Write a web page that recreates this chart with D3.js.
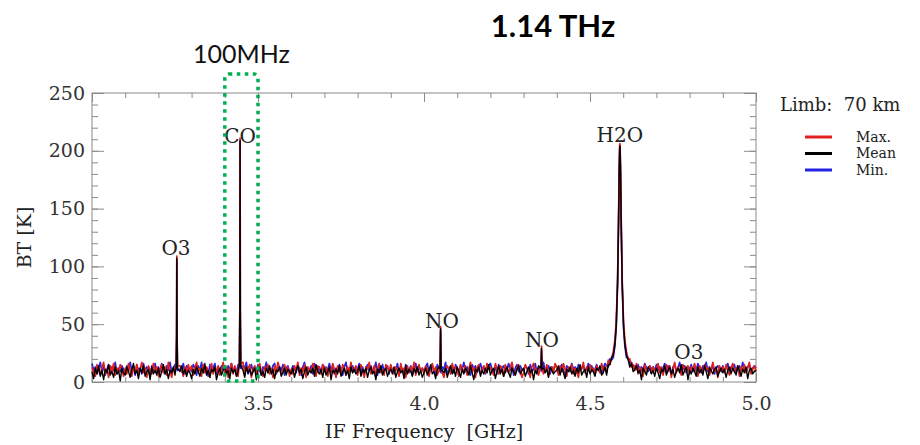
<!DOCTYPE html>
<html>
<head>
<meta charset="utf-8">
<script src="https://cdn.jsdelivr.net/npm/d3@7"></script>
<style>
  body { margin: 0; background: #fff; }
  #chart { width: 920px; height: 445px; }
  .axis path, .axis line { stroke: #8a8a8a; }
  .axis text { font-family: "DejaVu Serif", serif; font-size: 19px; fill: #333; }
  .lbl { font-family: "DejaVu Serif", serif; fill: #222; }
</style>
</head>
<body>
<div id="chart"></div>
<script>
// spectrum sampled every 5 MHz from 3.000 GHz
const freqStart = 3.00;
const freqStep = 0.005;

const meanBT = [
  9,3,12,7,14,5,10,2,11,8,15,6,9,4,13,7,10,1,12,8,
  6,13,9,4,11,16,7,10,3,12,8,14,5,9,11,2,13,7,10,6,
  12,4,9,15,7,11,3,10,8,13,6,12,2,9,14,7,11,5,10,8,
  3,11,7,13,9,5,12,8,16,6,10,4,11,9,13,2,8,12,6,10,
  14,7,10,3,12,8,11,5,9,15,7,10,4,13,8,11,6,9,12,2,
  10,13,6,9,4,12,8,14,7,11,3,10,9,13,5,8,12,6,11,9,
  7,12,4,10,14,8,11,3,9,13,6,10,8,12,5,15,9,7,11,4,
  12,6,9,13,2,10,8,11,7,14,5,9,12,6,10,3,13,8,11,7,
  9,14,5,11,8,12,4,10,13,7,9,2,11,8,14,6,10,12,5,9,
  11,7,13,4,9,12,8,10,3,14,7,11,9,5,12,8,13,6,10,4,
  8,12,6,10,15,7,9,3,11,13,6,10,8,12,4,9,14,7,11,5,
  13,9,4,11,7,12,10,6,14,8,2,11,9,13,5,10,7,12,8,15,
  6,10,12,3,9,14,7,11,5,10,13,8,4,12,9,6,11,14,7,10,
  12,5,9,13,8,11,2,10,7,14,9,6,12,8,11,4,13,10,7,9,
  10,14,6,12,8,3,11,9,13,7,10,5,12,8,15,6,9,11,4,13,
  7,11,9,5,12,10,14,6,8,13,6,15,15,21,25,30,40,60,80,100,
  9,4,13,19,13,16,9,11,14,8,10,2,12,9,6,13,11,7,10,5,
  12,8,3,11,9,14,6,10,13,7,11,4,9,12,8,15,6,10,13,2,
  10,7,12,9,5,13,8,11,6,14,9,3,12,10,7,11,13,5,9,12,
  8,11,4,10,13,7,12,9,6,14,10,5,11,8,13,3,10,12,7,9,
  10
];
const maxBT = [
  13,8,5,15,10,6,12,17,7,11,4,14,9,16,6,12,8,15,11,5,
  12,7,16,10,5,13,9,15,6,11,17,8,12,4,14,10,7,16,9,13,
  5,11,15,8,13,6,17,10,4,12,9,16,7,14,11,5,13,8,15,10,
  14,6,11,17,9,12,5,15,8,13,10,4,16,7,12,9,14,6,11,17,
  8,13,4,11,16,7,14,10,5,12,9,17,6,13,11,15,4,10,14,7,
  12,16,9,5,13,10,15,7,11,4,14,8,17,12,6,10,15,9,13,5,
  11,7,14,10,17,6,12,9,15,4,13,11,8,16,10,5,14,12,7,15,
  9,13,5,12,8,16,11,4,14,10,7,15,12,6,13,9,17,8,11,14,
  6,12,15,9,4,13,11,17,7,10,14,5,12,16,8,11,6,15,13,9,
  15,10,7,13,11,5,16,9,12,4,14,8,13,10,17,6,11,15,9,12,
  7,14,11,5,12,16,9,13,6,10,15,8,4,12,14,11,7,16,10,13,
  10,5,15,12,8,14,6,11,17,9,13,4,12,15,7,10,14,8,16,11,
  13,9,6,16,11,7,14,12,5,15,10,8,13,17,9,6,12,15,10,4,
  8,15,12,10,4,13,16,9,11,6,14,12,7,10,15,5,11,13,9,16,
  12,6,14,9,16,11,5,13,10,15,7,12,9,4,14,11,17,8,13,10,
  15,9,12,6,14,11,8,16,10,13,8,19,15,21,25,30,40,60,80,100,
  60,40,30,20,20,13,15,10,16,7,13,11,5,15,9,12,14,8,13,10,
  11,16,8,13,6,12,15,9,14,4,11,17,8,13,10,6,15,12,9,14,
  7,13,11,16,9,5,14,12,8,15,10,13,6,11,17,9,12,4,14,10,
  13,8,15,10,6,12,16,9,11,14,5,13,10,15,8,12,17,7,11,14,
  9
];
const minBT = [
  16,10,13,7,12,17,9,14,6,11,15,8,13,10,17,7,12,9,14,11,
  8,14,11,17,9,13,6,15,10,12,7,16,9,13,11,5,14,10,16,8,
  13,9,16,11,7,14,10,17,8,12,15,6,13,11,9,16,7,14,10,12,
  9,15,12,6,14,10,17,8,13,11,5,15,9,12,16,7,13,10,14,11,
  12,7,14,10,16,9,13,6,15,11,8,14,12,17,7,10,15,9,13,8,
  15,10,6,13,11,17,8,12,9,14,16,7,11,13,10,15,6,12,14,9,
  10,14,12,8,15,11,6,13,17,9,12,10,14,7,16,11,9,13,8,15,
  13,8,11,16,10,14,7,12,9,15,11,6,13,17,8,12,10,14,9,11,
  11,16,9,13,7,12,15,10,14,8,11,17,6,13,10,15,9,12,14,7,
  14,9,12,10,16,7,13,11,8,15,12,10,14,6,11,16,9,13,10,12,
  9,13,16,8,11,14,10,6,15,12,9,13,11,17,7,10,14,12,8,15,
  12,8,14,11,17,9,13,10,6,15,11,14,8,12,16,10,13,7,11,14,
  16,11,9,13,7,15,10,12,14,8,11,16,10,13,6,12,15,9,14,11,
  10,14,12,7,15,9,11,16,8,13,10,12,17,9,11,14,7,13,10,15,
  13,9,11,15,10,6,14,12,9,16,11,13,8,15,10,12,14,9,11,16,
  12,14,9,11,15,10,13,7,12,16,14,13,20,19,25,30,40,60,80,100,
  60,40,30,21,16,17,12,14,11,15,8,13,10,16,12,9,14,11,13,10,
  15,10,13,8,12,16,9,14,11,7,13,15,10,12,17,9,11,14,8,13,
  11,15,9,13,10,16,12,8,14,11,17,9,13,10,15,7,12,14,11,9,
  14,10,12,16,9,13,11,15,8,12,14,10,17,11,9,13,15,10,12,14,
  12
];

// finer samples across the emission lines
const peakFreq = [3.2535,3.2548,3.2555,3.2562,3.2575, 3.4440,3.4453,3.4460,3.4467,3.4480,
  4.0485,4.0500,4.0515, 4.3525,4.3540,4.3555,
  4.570,4.575,4.579,4.583,4.586,4.588,4.5895,4.5905,4.592,4.594,4.597,4.601,4.605,4.610];
const peakMean = [13,40,107,40,12, 15,62,209,60,14, 11,46,10, 12,29,11,
  23,33,49,85,138,183,204,204,183,138,85,49,33,23];
const peakMax = [15,42,109,42,14, 17,64,211,62,16, 13,48,12, 14,31,13,
  26,36,52,88,141,186,206,206,186,141,88,52,36,26];
const peakMin = [11,38,105,38,10, 13,60,207,58,12, 9,44,8, 10,27,9,
  21,31,47,83,136,181,202,202,181,136,83,47,31,21];

const lineNames = ["O3", "CO", "NO", "NO", "H2O", "O3"];
const lineFreqs = [3.253, 3.446, 4.054, 4.355, 4.590, 4.798];
const lineLabelBT = [116, 213, 53, 36, 214, 26];

const seriesNames = ["Max.", "Mean", "Min."];
const seriesColors = ["#e0201c", "#000000", "#2222e6"];

const xTicks = [3.0, 3.5, 4.0, 4.5, 5.0];
const yTicks = [0, 50, 100, 150, 200, 250];

function buildSeries(gridVals, peakVals) {
  const pts = [];
  gridVals.forEach((v, i) => {
    const f = +(freqStart + i * freqStep).toFixed(4);
    if (!peakFreq.some(p => Math.abs(p - f) < 0.003)) pts.push([f, v]);
  });
  peakFreq.forEach((f, i) => pts.push([f, peakVals[i]]));
  return pts.sort((a, b) => a[0] - b[0]);
}

class Spectrum {
  constructor(opts) {
    this.element = opts.element;
    this.series = opts.series;
    this.draw();
  }

  draw() {
    this.margin = {top: 93, right: 164, bottom: 63, left: 92};
    this.width = 920 - this.margin.left - this.margin.right;
    this.height = 445 - this.margin.top - this.margin.bottom;

    this.svg = d3.select(this.element).append("svg")
      .attr("width", 920)
      .attr("height", 445);

    this.chart = this.svg.append("g")
      .attr("transform", "translate(" + this.margin.left + "," + this.margin.top + ")");

    this.createScales();
    this.addAxes();
    this.addLines();
    this.addLabels();
    this.addLegend();
  }

  createScales() {
    this.xscale = d3.scaleLinear().domain([3.0, 5.0]).range([0, this.width]);
    this.yscale = d3.scaleLinear().domain([0, 250]).range([this.height, 0]);
  }

  addAxes() {
    const xMinor = d3.range(30, 51).map(d => d / 10);
    const yMinor = d3.range(0, 251, 10);
    const fmt = d => d === 3.0 ? "" : d3.format(".1f")(d);

    const mk = (axis, ticks, size, pad, f) =>
      axis.tickValues(ticks).tickSizeInner(-size).tickSizeOuter(0).tickPadding(pad).tickFormat(f);

    const bottom = this.chart.append("g").attr("class", "axis")
      .attr("transform", "translate(0," + this.height + ")");
    bottom.append("g").call(mk(d3.axisBottom(this.xscale), xMinor, 5, 0, ""));
    bottom.append("g").call(mk(d3.axisBottom(this.xscale), xTicks, 9, 15, fmt));

    const top = this.chart.append("g").attr("class", "axis");
    top.append("g").call(mk(d3.axisTop(this.xscale), xMinor, 5, 0, ""));
    top.append("g").call(mk(d3.axisTop(this.xscale), xTicks, 9, 0, ""));

    const left = this.chart.append("g").attr("class", "axis");
    left.append("g").call(mk(d3.axisLeft(this.yscale), yMinor, 6, 0, ""));
    left.append("g").call(mk(d3.axisLeft(this.yscale), yTicks, 12, 7, d3.format("d")));

    const right = this.chart.append("g").attr("class", "axis")
      .attr("transform", "translate(" + this.width + ",0)");
    right.append("g").call(mk(d3.axisRight(this.yscale), yMinor, 6, 0, ""));
    right.append("g").call(mk(d3.axisRight(this.yscale), yTicks, 12, 0, ""));

    this.chart.selectAll(".axis .domain").remove();
    this.chart.append("rect")
      .attr("width", this.width).attr("height", this.height)
      .attr("fill", "none").attr("stroke", "#8a8a8a");

    this.svg.append("text").attr("class", "lbl")
      .attr("x", this.margin.left + this.xscale(4.0)).attr("y", 438)
      .attr("text-anchor", "middle").style("font-size", "19px").style("white-space", "pre")
      .text("IF Frequency  [GHz]");

    this.svg.append("text").attr("class", "lbl")
      .attr("transform", "translate(31," + (this.margin.top + this.height / 2) + ") rotate(-90)")
      .attr("text-anchor", "middle").style("font-size", "19px")
      .text("BT [K]");
  }

  addLines() {
    const line = d3.line().x(d => this.xscale(d[0])).y(d => this.yscale(d[1]));
    // min and max underneath, mean on top
    [2, 0, 1].forEach(k => {
      this.chart.append("path")
        .datum(this.series[k])
        .attr("fill", "none")
        .attr("stroke", seriesColors[k])
        .attr("stroke-width", k === 1 ? 1.4 : 1.7)
        .attr("stroke-linejoin", "round")
        .attr("d", line);
    });
  }

  addLabels() {
    this.chart.append("g").selectAll("text")
      .data(lineNames)
      .join("text").attr("class", "lbl")
      .attr("x", (d, i) => this.xscale(lineFreqs[i]))
      .attr("y", (d, i) => this.yscale(lineLabelBT[i]))
      .attr("dy", "0.35em")
      .attr("text-anchor", "middle")
      .style("font-size", "20px")
      .text(d => d);

    // 100 MHz window around CO
    this.chart.append("rect")
      .attr("x", this.xscale(3.40)).attr("y", -19)
      .attr("width", this.xscale(3.50) - this.xscale(3.40))
      .attr("height", this.height + 18)
      .attr("rx", 4)
      .attr("fill", "none").attr("stroke", "#00b050")
      .attr("stroke-width", 3.5).attr("stroke-dasharray", "3.5,4.5");

    this.svg.append("text")
      .attr("x", this.margin.left + this.xscale(3.45)).attr("y", 63)
      .attr("text-anchor", "middle")
      .style("font-family", "Lato, sans-serif").style("font-size", "25px").style("fill", "#111")
      .text("100MHz");

    this.svg.append("text")
      .attr("x", 553).attr("y", 37)
      .attr("text-anchor", "middle")
      .style("font-family", "Lato, sans-serif").style("font-size", "31px")
      .style("font-weight", "bold").style("fill", "#000")
      .text("1.14 THz");
  }

  addLegend() {
    const lg = this.svg.append("g");
    lg.append("text").attr("class", "lbl")
      .attr("x", 780).attr("y", 111)
      .style("font-size", "18px").style("white-space", "pre")
      .text("Limb:  70 km");

    const rows = lg.selectAll("g.row").data(seriesNames).join("g")
      .attr("class", "row")
      .attr("transform", (d, i) => "translate(0," + (137 + i * 16.5) + ")");
    rows.append("line")
      .attr("x1", 805).attr("x2", 832)
      .attr("stroke", (d, i) => seriesColors[i]).attr("stroke-width", 3);
    rows.append("text").attr("class", "lbl")
      .attr("x", 856).attr("dy", "0.35em")
      .style("font-size", "14px")
      .text(d => d);
  }
}

const series = [
  buildSeries(maxBT, peakMax),
  buildSeries(meanBT, peakMean),
  buildSeries(minBT, peakMin)
];

new Spectrum({element: document.getElementById("chart"), series: series});
</script>
</body>
</html>
